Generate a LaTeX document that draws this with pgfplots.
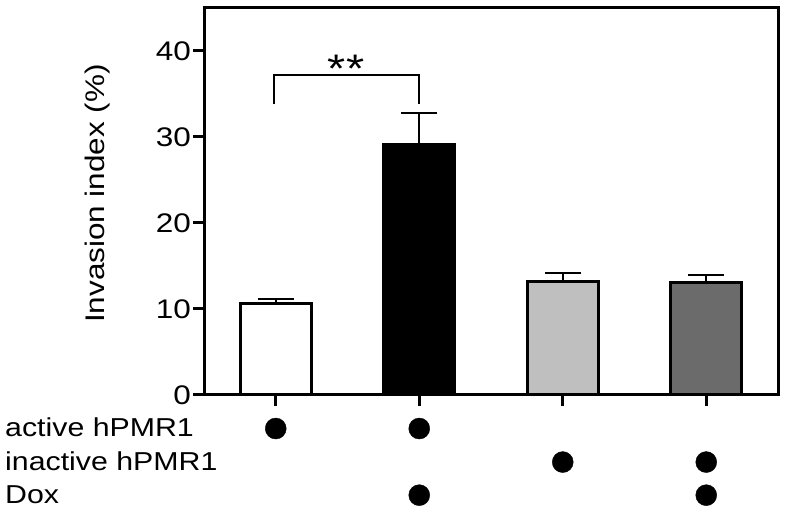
\documentclass[border=0pt]{standalone}
\usepackage{pgfplots}
\pgfplotsset{compat=1.18}
\usepackage{fontspec}
\setmainfont[FakeStretch=1.17]{Liberation Sans}
\begin{document}
\begin{tikzpicture}
\useasboundingbox (0bp,0bp) rectangle (787bp,510bp);
\begin{axis}[
  at={(204bp,115bp)}, anchor=south west,
  scale only axis, width=574bp, height=387bp,
  xmin=-0.5, xmax=3.5, ymin=0, ymax=45,
  clip=false,
  axis line style={line width=3bp},
  every tick/.style={black, line width=3bp},
  major tick length=11bp,
  tick align=outside,
  xtick pos=left, ytick pos=left,
  xtick={0,1,2,3}, xticklabels={},
  ytick={0,10,20,30,40},
  /pgf/number format/assume math mode=true,
  yticklabel style={font=\fontsize{27}{30}\selectfont, inner sep=2bp},
  ylabel={Invasion index (\%)},
  ylabel style={font=\fontsize{27}{30}\selectfont, at={(axis description cs:-0.1725,0.5207)}, anchor=base},
]
\addplot[ybar, bar width=71bp, fill=white, draw=black, line width=3bp,
  error bars/.cd, y dir=plus, y explicit,
  error bar style={line width=2bp, black},
  error mark options={rotate=90, line width=2bp, mark size=18bp, black}]
  coordinates {(0,10.6) +- (0,0.6)};
\addplot[ybar, bar width=71bp, fill=black, draw=black, line width=3bp,
  error bars/.cd, y dir=plus, y explicit,
  error bar style={line width=2bp, black},
  error mark options={rotate=90, line width=2bp, mark size=18bp, black}]
  coordinates {(1,29.1) +- (0,3.7)};
\addplot[ybar, bar width=71bp, fill=black!25, draw=black, line width=3bp,
  error bars/.cd, y dir=plus, y explicit,
  error bar style={line width=2bp, black},
  error mark options={rotate=90, line width=2bp, mark size=18bp, black}]
  coordinates {(2,13.2) +- (0,1.0)};
\addplot[ybar, bar width=71bp, fill=black!58, draw=black, line width=3bp,
  error bars/.cd, y dir=plus, y explicit,
  error bar style={line width=2bp, black},
  error mark options={rotate=90, line width=2bp, mark size=18bp, black}]
  coordinates {(3,13.1) +- (0,0.85)};
% significance bracket
\draw[line width=2bp] (axis cs:-0.01,33.8) -- (axis cs:-0.01,37.2) -- (axis cs:1,37.2) -- (axis cs:1,33.8);
\node[anchor=base, inner sep=0pt, font=\fontsize{40}{42}\selectfont] at (axis cs:0.49,36.3) {**};
% condition dots
\addplot[only marks, mark=*, mark size=10.5bp, black] coordinates {(0,-3.9) (1,-3.9)};
\addplot[only marks, mark=*, mark size=10.5bp, black] coordinates {(2,-7.8) (3,-7.8)};
\addplot[only marks, mark=*, mark size=10.5bp, black] coordinates {(1,-11.65) (3,-11.65)};
\end{axis}
\begin{scope}[every node/.style={anchor=base west, inner sep=0pt, font=\fontsize{26}{28}\selectfont}]
\node at (5bp,73bp) {active hPMR1};
\node at (5bp,39.7bp) {inactive hPMR1};
\node at (5bp,6.4bp) {Dox};
\end{scope}
\end{tikzpicture}
\end{document}
